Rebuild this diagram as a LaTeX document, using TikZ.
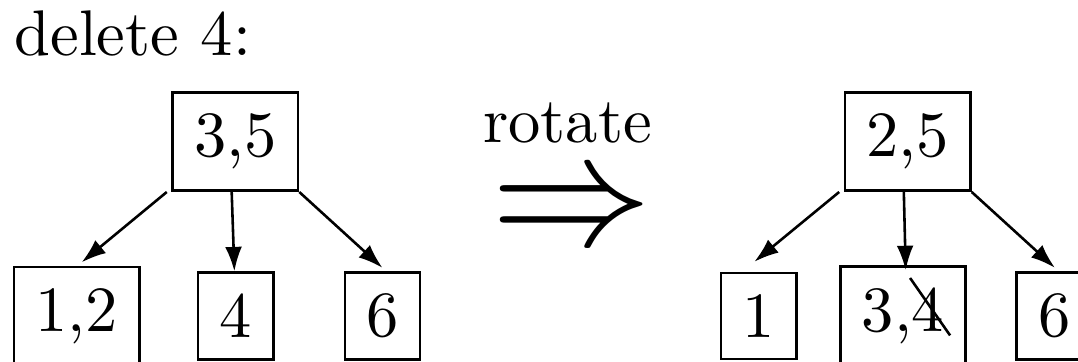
\documentclass[tikz,border=0pt]{standalone}
\usepackage{tikz}
\usetikzlibrary{arrows.meta}
\tikzset{
  >={Latex[length=3.8pt,width=2.6pt]},  % punta delle frecce
  % Nodi dell'albero
  tree node/.style={draw,rectangle,thin,inner sep=0.3333em},
  % Archi
  tree edge/.style={->,thin},
  strike line/.style={thin}
}

\begin{document}
\begin{tikzpicture}[x=1pt,y=1pt]
  \useasboundingbox (0,0) rectangle (167.13,-56.12);
  \node[anchor=base west,inner sep=0] (title) at (2.05,-8.53) {delete 4:};
  % albero prima della rotazione
  \node[tree node] (a) at (36.48,-21.94) {3,5};
  \node[tree node] (a1) at (11.91,-49.0) {1,2};
  \node[tree node] (a2) at (36.54,-49.0) {4};
  \node[tree node] (a3) at (59.30,-49.0) {6};
  \draw[tree edge] ([xshift=-0.7pt]a.south west) -- ([shift={(0.75pt,0.5pt)}]a1.north);
  \draw[tree edge] ([xshift=-0.56pt]a.south) -- ([xshift=-0.2pt]a2.north);
  \draw[tree edge] (a.south east) -- ([yshift=0.5pt]a3.north);
  % rotazione
  \node[anchor=base] (rot) at (87.98,-22.12) {rotate};
  \node[anchor=base,inner sep=0] (imp) at (88.7,-37.88) {\Huge$\Rightarrow$};
  % albero dopo la rotazione
  \node[tree node] (b) at (140.73,-21.94) {2,5};
  \node[tree node] (b1) at (117.63,-49.0) {1};
  \node[tree node] (b2) at (140.0,-49.0) {3,4};
  \node[tree node] (b3) at (163.46,-49.0) {6};
  \draw[tree edge] ([xshift=-0.7pt]b.south west) -- ([shift={(-0.68pt,1.55pt)}]b1.north);
  \draw[tree edge] ([xshift=-0.6pt]b.south) -- ([shift={(0.42pt,-0.78pt)}]b2.north);
  \draw[tree edge] (b.south east) -- ([shift={(0.1pt,0.5pt)}]b3.north);
  \draw[strike line] ([shift={(1.1pt,5.9pt)}]b2.center) -- ([shift={(7.3pt,-3pt)}]b2.center);
\end{tikzpicture}
\end{document}
